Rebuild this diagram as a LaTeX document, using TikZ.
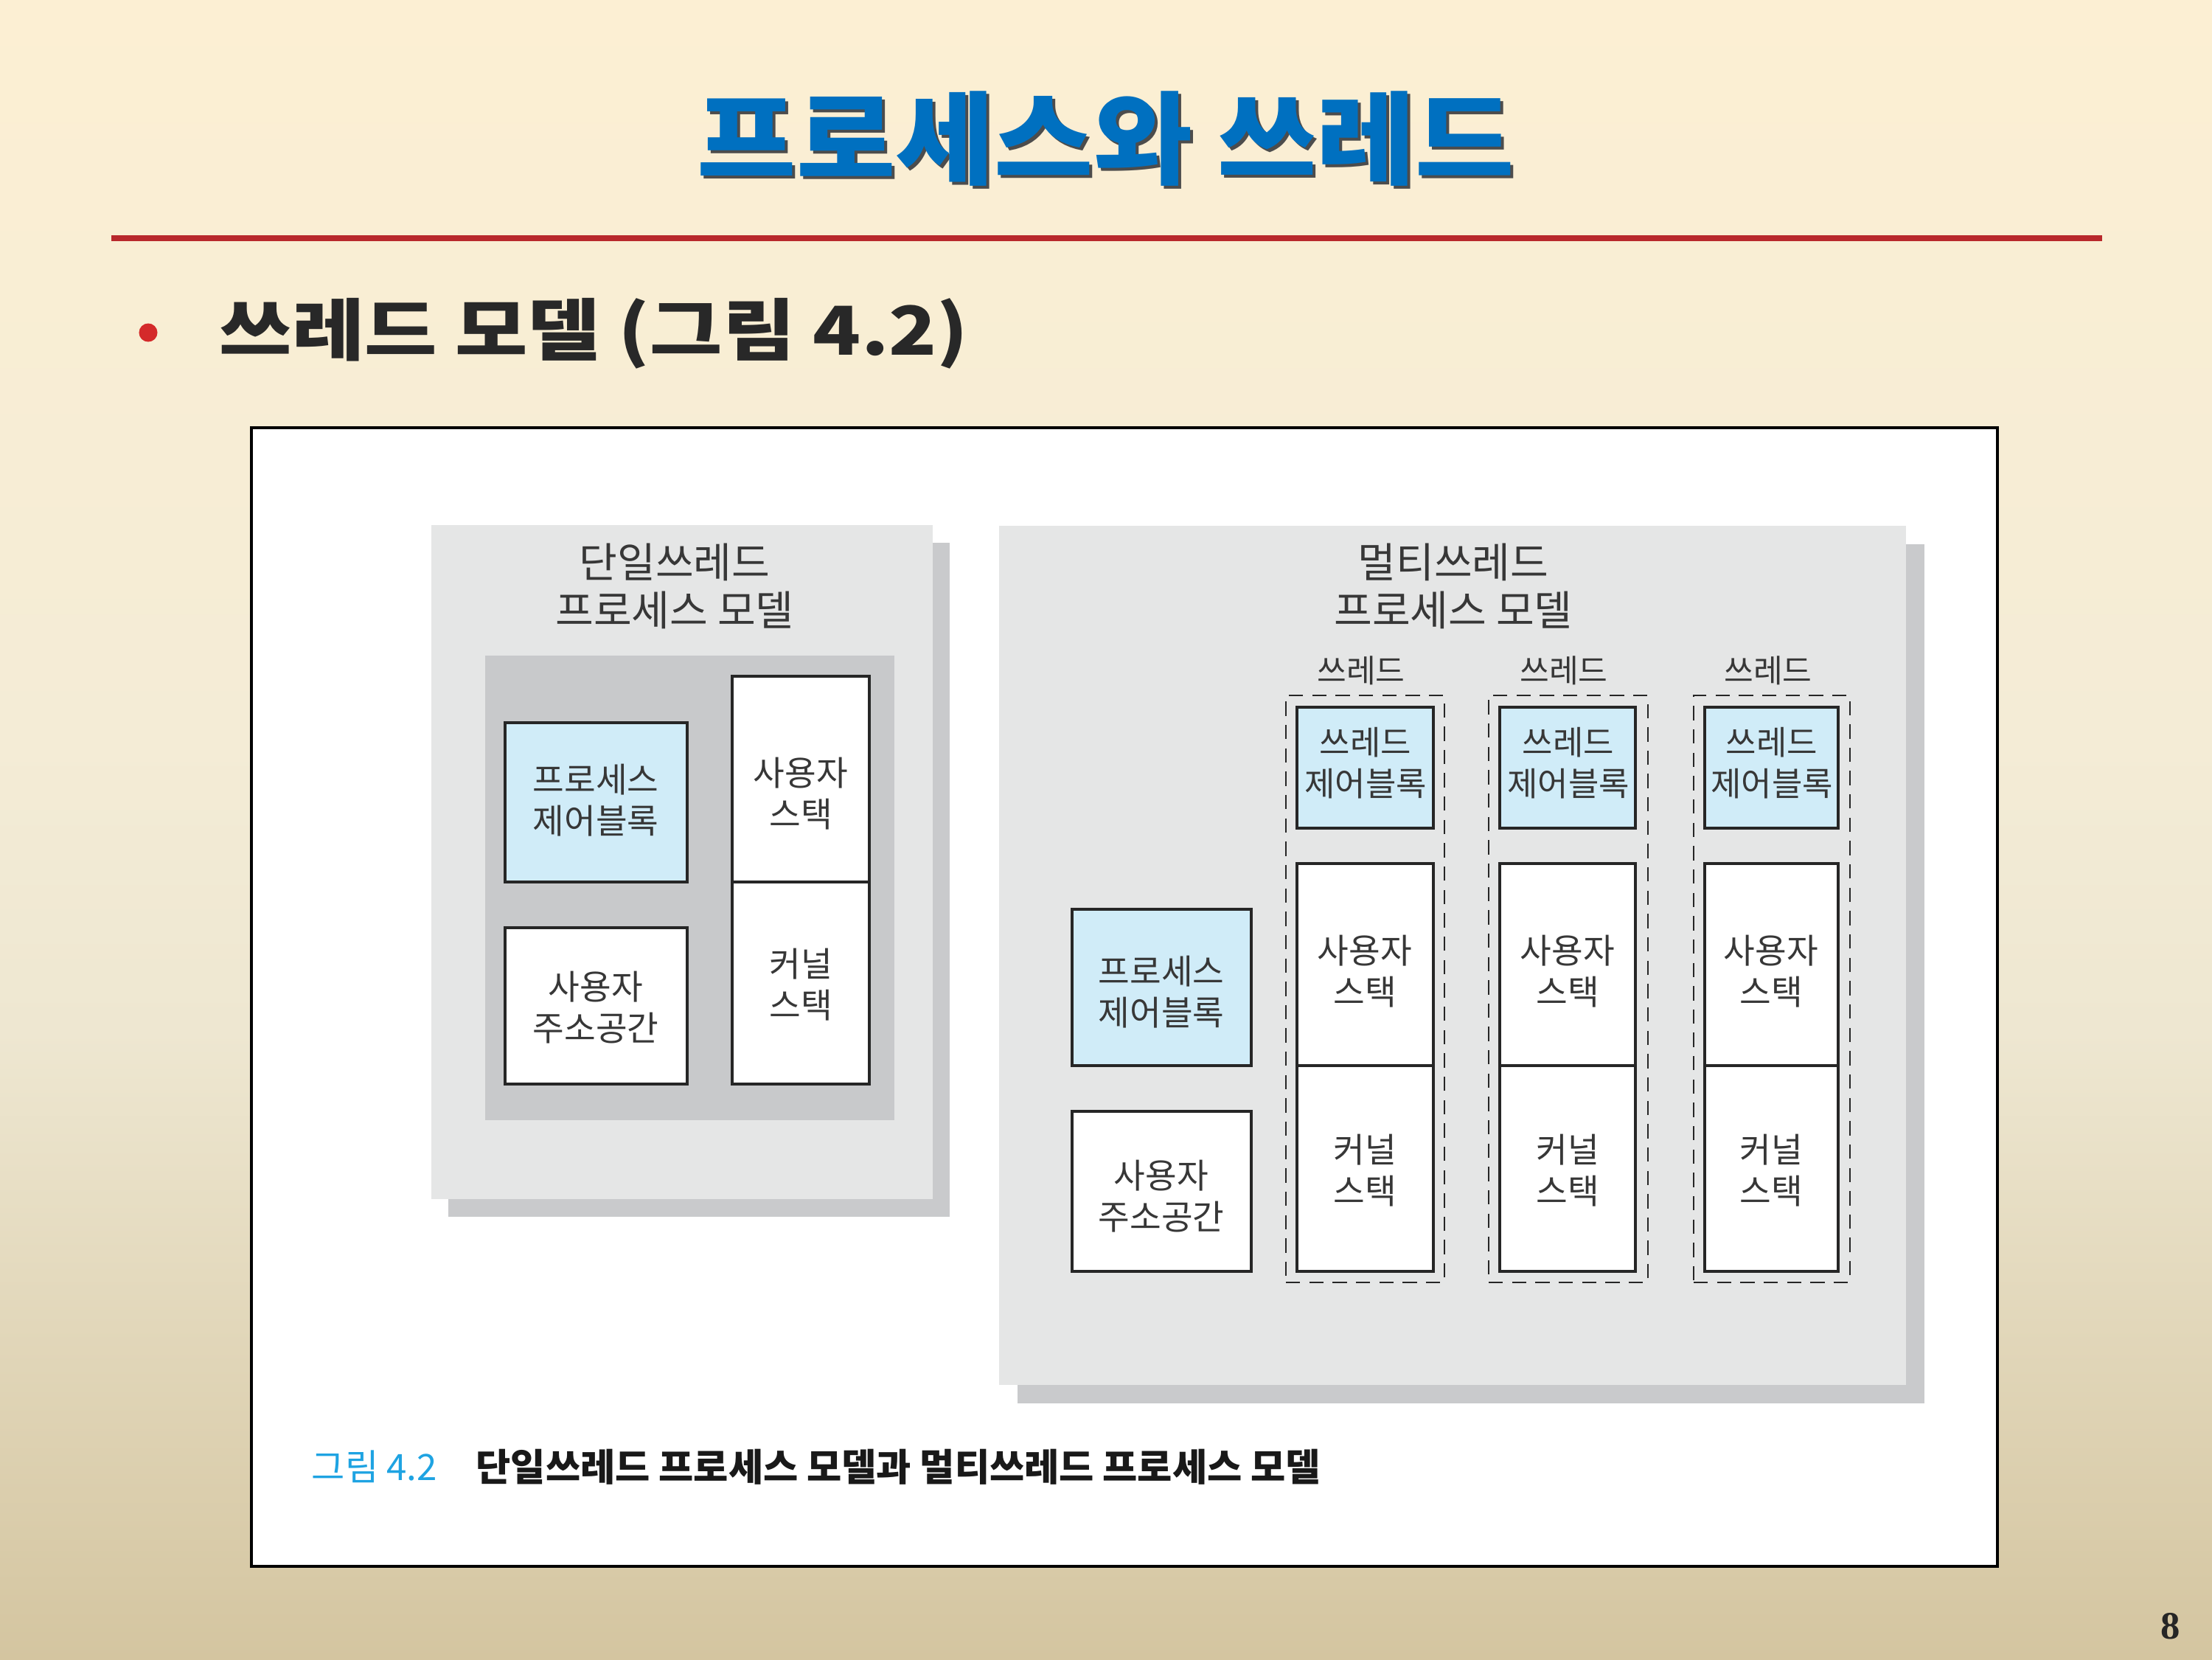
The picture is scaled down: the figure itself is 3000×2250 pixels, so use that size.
\documentclass[tikz,border=0pt]{standalone}
\usepackage{fontspec}
\usepackage{graphicx}
\setmainfont{Noto Sans CJK KR}
\newfontfamily\kr{Noto Sans CJK KR}
\newfontfamily\numfont{Liberation Serif}
\usetikzlibrary{fit}
\definecolor{bgtop}{RGB}{252,239,211}
\definecolor{bgmid}{RGB}{244,236,214}
\definecolor{bgmidb}{RGB}{238,231,209}
\definecolor{bgbot}{RGB}{212,197,160}
\definecolor{titleblue}{RGB}{0,112,192}
\definecolor{redline}{RGB}{184,40,44}
\definecolor{bulletred}{RGB}{212,42,42}
\definecolor{subdark}{RGB}{40,40,40}
\definecolor{panelgrey}{RGB}{229,230,230}
\definecolor{shadowgrey}{RGB}{201,202,204}
\definecolor{innergrey}{RGB}{200,201,203}
\definecolor{lblue}{RGB}{208,236,248}
\definecolor{txtgrey}{RGB}{55,55,55}
\definecolor{capblue}{RGB}{30,163,226}
\pgfdeclareverticalshading{bgshade}{100bp}{color(0bp)=(bgbot); color(25bp)=(bgbot); color(43.9bp)=(bgmidb); color(52.8bp)=(bgmid); color(75bp)=(bgtop); color(100bp)=(bgtop)}
\tikzset{
  lbl/.style={font=\kr\fontsize{13.2}{16}\selectfont, text=txtgrey, align=center, inner sep=0pt},
  tcblbl/.style={lbl, font=\kr\fontsize{12.8}{16}\selectfont},
  blk/.style={draw=black!85, line width=1pt, inner sep=0pt},
  pcbbox/.style={blk, fill=lblue},
  wbox/.style={blk, fill=white},
  thrbox/.style={draw=black!85, line width=0.8pt, dash pattern=on 5.5pt off 3.5pt, inner sep=0pt},
  ptitle/.style={font=\kr\fontsize{16}{18.4}\selectfont, text=txtgrey, align=center, inner sep=0pt},
  thrlabel/.style={font=\kr\fontsize{12.3}{14}\selectfont, text=txtgrey, inner sep=0pt},
}
\begin{document}
\begin{tikzpicture}[x=0.01cm, y=-0.01cm]
\useasboundingbox (0,0) rectangle (3000,2250);
% background
\shade[shading=bgshade] (0,0) rectangle (3000,2250);
% title with shadow
\node[font=\kr\bfseries\fontsize{39}{46}\selectfont, text=black!70, inner sep=0pt] (titleshadow) at (1504,192) {\scalebox{1.065}[1]{프로세스와 쓰레드}};
\node[font=\kr\bfseries\fontsize{39}{46}\selectfont, text=titleblue, inner sep=0pt] (title) at (1500,188) {\scalebox{1.065}[1]{프로세스와 쓰레드}};
% red rule
\coordinate (ruleL) at (151,323);
\coordinate (ruleR) at (2851,323);
\draw[redline, line width=2.3pt] (ruleL) -- (ruleR);
% bullet + subtitle
\node[circle, fill=bulletred, minimum size=0.25cm, inner sep=0pt] (bullet) at (201,451) {};
\node[anchor=west, inner sep=0pt, font=\kr\bfseries\fontsize{26}{30}\selectfont, text=subdark] (subtitle) at (297,452) {\scalebox{1.17}[1]{쓰레드 모델 (그림 4.2)}};
% white frame
\draw[fill=white, draw=black, line width=0.9pt] (341,580) rectangle (2709,2124);
% single-thread panel
\fill[shadowgrey] (608,736) rectangle (1288,1650);
\fill[panelgrey] (585,712) rectangle (1265,1626);
\node[ptitle] (stitle) at (915,795) {단일쓰레드\\프로세스 모델};
\fill[innergrey] (658,889) rectangle (1213,1519);
\node[pcbbox, fit={(685,980) (932,1196)}] (spcb) {};
\node[wbox, fit={(685,1258) (932,1470)}] (suas) {};
\node[wbox, fit={(993,917) (1179,1196)}] (sustack) {};
\node[wbox, fit={(993,1196) (1179,1470)}] (skstack) {};
\node[lbl] (spcbtxt) at (808,1085) {프로세스\\제어블록};
\node[lbl] (suastxt) at (808,1366) {사용자\\주소공간};
\node[lbl] (sustxt) at (1086,1076) {사용자\\스택};
\node[lbl] (skstxt) at (1086,1335) {커널\\스택};
% multi-thread panel
\fill[shadowgrey] (1380,738) rectangle (2610,1903);
\fill[panelgrey] (1355,713) rectangle (2585,1878);
\node[ptitle] (mtitle) at (1971,795) {멀티쓰레드\\프로세스 모델};
\node[pcbbox, fit={(1454,1233) (1697,1445)}] (mpcb) {};
\node[wbox, fit={(1454,1507) (1697,1724)}] (muas) {};
\node[lbl] (mpcbtxt) at (1575,1345) {프로세스\\제어블록};
\node[lbl] (muastxt) at (1575,1622) {사용자\\주소공간};
% thread 1
\node[thrbox, fit={(1744,943) (1959,1739)}] (t1) {};
\node[thrlabel] (t1lbl) at (1846,909) {쓰레드};
\node[pcbbox, fit={(1759,959) (1944,1123)}] (t1tcb) {};
\node[wbox, fit={(1759,1171) (1944,1445)}] (t1us) {};
\node[wbox, fit={(1759,1445) (1944,1724)}] (t1ks) {};
\node[tcblbl] (t1tcbtxt) at (1852,1035) {쓰레드\\제어블록};
\node[lbl] (t1ustxt) at (1851,1317) {사용자\\스택};
\node[lbl] (t1kstxt) at (1851,1587) {커널\\스택};
% thread 2
\node[thrbox, fit={(2019,943) (2235,1739)}] (t2) {};
\node[thrlabel] (t2lbl) at (2121,909) {쓰레드};
\node[pcbbox, fit={(2034,959) (2218,1123)}] (t2tcb) {};
\node[wbox, fit={(2034,1171) (2218,1445)}] (t2us) {};
\node[wbox, fit={(2034,1445) (2218,1724)}] (t2ks) {};
\node[tcblbl] (t2tcbtxt) at (2127,1035) {쓰레드\\제어블록};
\node[lbl] (t2ustxt) at (2126,1317) {사용자\\스택};
\node[lbl] (t2kstxt) at (2126,1587) {커널\\스택};
% thread 3
\node[thrbox, fit={(2297,943) (2509,1739)}] (t3) {};
\node[thrlabel] (t3lbl) at (2398,909) {쓰레드};
\node[pcbbox, fit={(2312,959) (2493,1123)}] (t3tcb) {};
\node[wbox, fit={(2312,1171) (2493,1445)}] (t3us) {};
\node[wbox, fit={(2312,1445) (2493,1724)}] (t3ks) {};
\node[tcblbl] (t3tcbtxt) at (2403,1035) {쓰레드\\제어블록};
\node[lbl] (t3ustxt) at (2402,1317) {사용자\\스택};
\node[lbl] (t3kstxt) at (2402,1587) {커널\\스택};
% caption
\node[anchor=west, inner sep=0pt, font=\kr\fontsize{14}{16}\selectfont, text=capblue] (capnum) at (422,1989) {그림 4.2};
\node[anchor=west, inner sep=0pt, font=\kr\bfseries\fontsize{14.6}{16}\selectfont, text=black!90] (captxt) at (645,1989) {단일쓰레드 프로세스 모델과 멀티쓰레드 프로세스 모델};
% page number
\node[font=\numfont\bfseries\fontsize{15}{18}\selectfont, text=black!85, inner sep=0pt] (pagenum) at (2944,2205) {8};
\end{tikzpicture}
\end{document}
